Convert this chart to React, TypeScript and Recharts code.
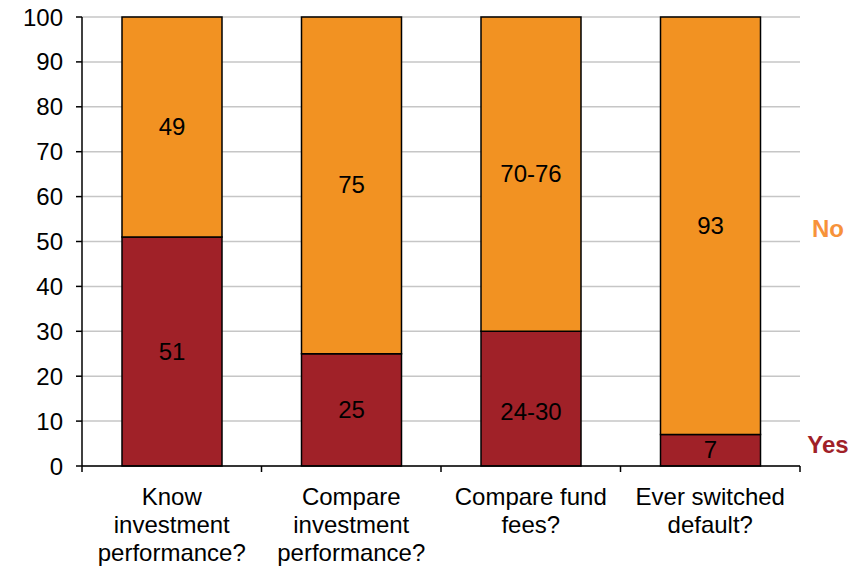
import React from 'react';
import { ComposedChart, Bar, XAxis, YAxis, CartesianGrid, LabelList } from 'recharts';

const categories = ['Know investment performance?', 'Compare investment performance?', 'Compare fund fees?', 'Ever switched default?'];
const categoryLines = [
  ['Know', 'investment', 'performance?'],
  ['Compare', 'investment', 'performance?'],
  ['Compare fund', 'fees?'],
  ['Ever switched', 'default?'],
];
const yesValues = [51, 25, 30, 7];
const noValues = [49, 75, 70, 93];
const yesLabels = ['51', '25', '24-30', '7'];
const noLabels = ['49', '75', '70-76', '93'];
const yesLabelAnchor = [51, 25, 24, 7];
const yTicks = [0, 10, 20, 30, 40, 50, 60, 70, 80, 90, 100];

const ORANGE = '#F29222';
const RED = '#A02128';
const FONT = '"Liberation Sans", Arial, sans-serif';
const FS = 24;

const data = categories.map((c, i) => ({
  name: c,
  idx: i,
  yes: yesValues[i],
  no: noValues[i],
}));

const PLOT_LEFT = 82;
const PLOT_RIGHT = 800;
const BAND = (PLOT_RIGHT - PLOT_LEFT) / categories.length;

const XTick = (props: any) => {
  const { x, y, index } = props;
  const lines = categoryLines[index] || [];
  const left = x - BAND / 2;
  return (
    <g>
      <line x1={left} x2={left} y1={y - 8} y2={y - 2} stroke="#000" strokeWidth={1.5} />
      {index === categories.length - 1 && (
        <line x1={x + BAND / 2} x2={x + BAND / 2} y1={y - 8} y2={y - 2} stroke="#000" strokeWidth={1.5} />
      )}
      {lines.map((l, k) => (
        <text key={k} x={x} y={y + 31 + k * 28} textAnchor="middle" fontSize={FS} fontFamily={FONT} fill="#000">
          {l}
        </text>
      ))}
    </g>
  );
};

const makeLabel = (kind: 'yes' | 'no') => (props: any) => {
  const { x, y, width, height, index } = props;
  const cx = x + width / 2;
  let cy: number;
  const pxPerUnit = height / (kind === 'yes' ? yesValues[index] : noValues[index]);
  if (kind === 'yes') {
    const bottom = y + height;
    cy = bottom - (yesLabelAnchor[index] / 2) * pxPerUnit;
  } else {
    cy = y + height / 2;
  }
  const text = kind === 'yes' ? yesLabels[index] : noLabels[index];
  return (
    <g>
      <text x={cx} y={cy} dy={8} textAnchor="middle" fontSize={FS} fontFamily={FONT} fill="#000">
        {text}
      </text>
      {index === categories.length - 1 && (
        <text
          x={828}
          y={kind === 'yes' ? y + height - 21 : cy + 3}
          dy={8}
          textAnchor="middle"
          fontSize={FS}
          fontWeight="bold"
          fontFamily={FONT}
          fill={kind === 'yes' ? RED : '#F7923A'}
        >
          {kind === 'yes' ? 'Yes' : 'No'}
        </text>
      )}
    </g>
  );
};

export default function App() {
  return (
    <div style={{ position: 'absolute', left: 0, top: 0 }}>
      <ComposedChart
        width={857}
        height={568}
        data={data}
        margin={{ top: 17, right: 57, bottom: 0, left: 0 }}
        barCategoryGap={0}
      >
        <CartesianGrid vertical={false} stroke="#c6c6c6" strokeWidth={1.5} />
        <XAxis
          dataKey="name"
          height={102}
          tick={<XTick />}
          tickLine={false}
          axisLine={{ stroke: '#000', strokeWidth: 1.5 }}
          interval={0}
        />
        <YAxis
          width={82}
          domain={[0, 100]}
          ticks={yTicks}
          interval={0}
          tickSize={6}
          tickMargin={13}
          axisLine={{ stroke: '#000', strokeWidth: 1.5 }}
          tickLine={{ stroke: '#000', strokeWidth: 1.5 }}
          tick={{ fill: '#000', fontSize: FS, fontFamily: FONT }}
        />
        <Bar dataKey="yes" stackId="a" fill={RED} stroke="#000" strokeWidth={1.5} barSize={100} isAnimationActive={false}>
          <LabelList dataKey="yes" content={makeLabel('yes')} />
        </Bar>
        <Bar dataKey="no" stackId="a" fill={ORANGE} stroke="#000" strokeWidth={1.5} barSize={100} isAnimationActive={false}>
          <LabelList dataKey="no" content={makeLabel('no')} />
        </Bar>
      </ComposedChart>
    </div>
  );
}
